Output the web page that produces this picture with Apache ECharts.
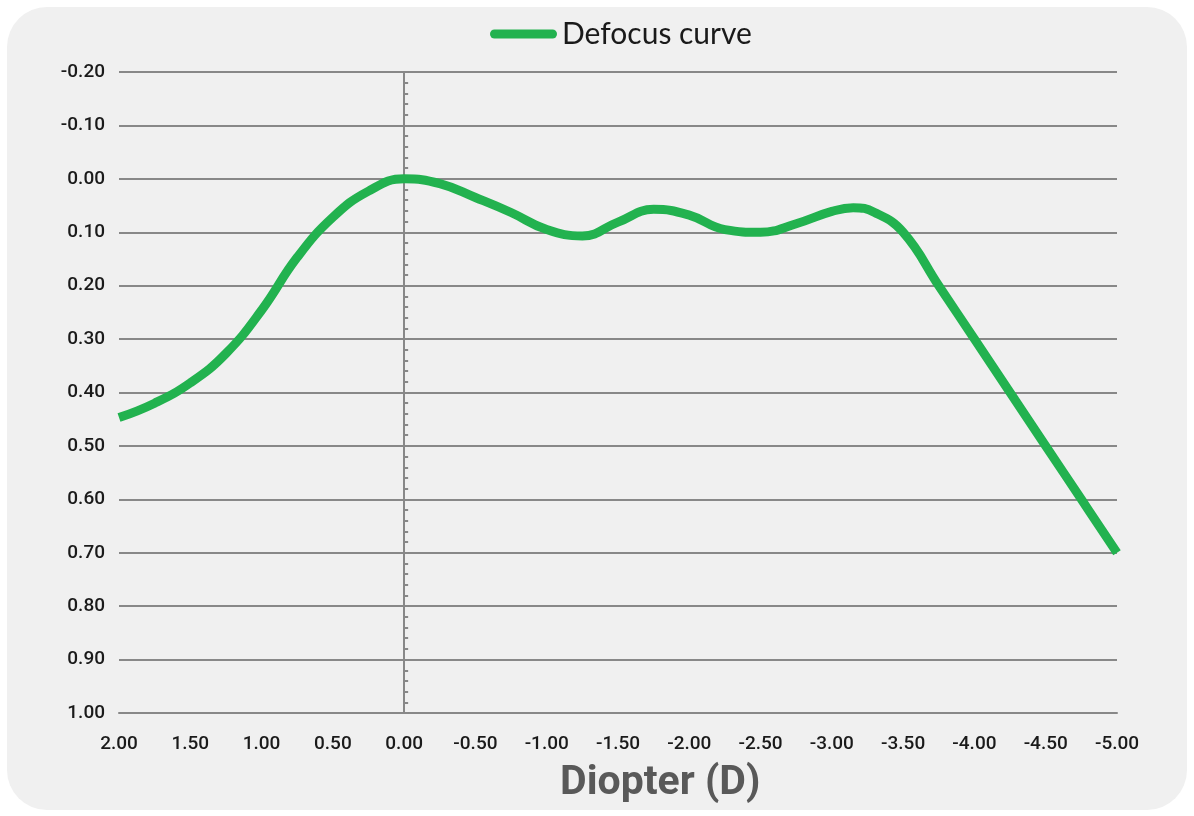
<!DOCTYPE html>
<html>
<head>
<meta charset="utf-8">
<script src="https://cdn.jsdelivr.net/npm/echarts@6/dist/echarts.min.js"></script>
<style>
html,body{margin:0;padding:0;background:#ffffff;}
#chart{width:1194px;height:816px;}
</style>
</head>
<body>
<div id="chart"></div>
<script>
// Diopter values (x) and defocus curve values (y)
const diopters = [2.0, 1.75, 1.5, 1.25, 1.0, 0.75, 0.5, 0.25, 0.0, -0.25, -0.5, -0.75, -1.0, -1.25, -1.5, -1.75, -2.0, -2.25, -2.5, -2.75, -3.0, -3.15, -3.3, -3.5, -3.75, -4.0, -4.25, -4.5, -4.75, -5.0];
const defocus = [0.447, 0.42, 0.382, 0.327, 0.246, 0.147, 0.072, 0.023, 0.0, 0.009, 0.035, 0.063, 0.095, 0.107, 0.081, 0.057, 0.068, 0.095, 0.1, 0.084, 0.061, 0.054, 0.063, 0.1, 0.2, 0.3, 0.4, 0.5, 0.6, 0.7];
const seriesName = 'Defocus curve';
const xTitle = 'Diopter (D)';

const chart = echarts.init(document.getElementById('chart'), null, {renderer: 'canvas'});
const gridColor = '#888888';
const fmt = v => (Math.abs(v) < 1e-9 ? 0 : v).toFixed(2);

chart.setOption({
  backgroundColor: '#ffffff',
  animation: false,
  graphic: [
    {type: 'rect', left: 7, top: 7, z: -10, shape: {width: 1180, height: 803, r: 40}, style: {fill: '#f0f0f0'}},
    {type: 'text', left: 560, top: 763, z: 10, style: {text: xTitle, font: 'bold 41px Roboto', fill: '#595959'}}
  ],
  legend: {
    top: 14, left: 485,
    itemWidth: 67, itemHeight: 9,
    icon: 'path://M4.5,0 H62.5 A4.5,4.5 0 0 1 62.5,9 H4.5 A4.5,4.5 0 0 1 4.5,0 Z',
    textStyle: {fontFamily: 'Lato', fontSize: 30, color: '#1a1a1a'},
    data: [seriesName]
  },
  grid: {left: 119, right: 77, top: 72, bottom: 103, containLabel: false},
  xAxis: {
    type: 'value', min: -5, max: 2, interval: 0.5, inverse: true,
    axisLine: {show: true, onZero: false, lineStyle: {color: gridColor, width: 2}},
    axisTick: {show: false},
    splitLine: {show: false},
    axisLabel: {formatter: fmt, margin: 22, fontFamily: 'Roboto', fontWeight: 500, fontSize: 19, color: '#1a1a1a'}
  },
  yAxis: [
    {
      type: 'value', min: -0.2, max: 1.0, interval: 0.1, inverse: true, position: 'left',
      axisLine: {show: false, onZero: false},
      axisTick: {show: false},
      splitLine: {show: true, lineStyle: {color: gridColor, width: 2}},
      axisLabel: {formatter: fmt, margin: 14, fontFamily: 'Roboto', fontWeight: 500, fontSize: 19, color: '#1a1a1a'}
    },
    {
      type: 'value', min: -0.2, max: 1.0, interval: 0.1, inverse: true, position: 'right',
      axisLine: {show: true, onZero: true, onZeroAxisIndex: 0, lineStyle: {color: gridColor, width: 2}},
      axisTick: {show: true, inside: false, length: 4, lineStyle: {color: gridColor, width: 2}},
      minorTick: {show: true, splitNumber: 5, length: 4, lineStyle: {color: gridColor, width: 2}},
      splitLine: {show: false},
      axisLabel: {show: false}
    }
  ],
  series: [{
    name: seriesName, type: 'line', yAxisIndex: 0,
    data: diopters.map((d, i) => [d, defocus[i]]),
    smooth: 0.45, symbol: 'none',
    lineStyle: {color: '#22b24f', width: 9},
    itemStyle: {color: '#22b24f'},
    z: 5
  }]
});
</script>
</body>
</html>
